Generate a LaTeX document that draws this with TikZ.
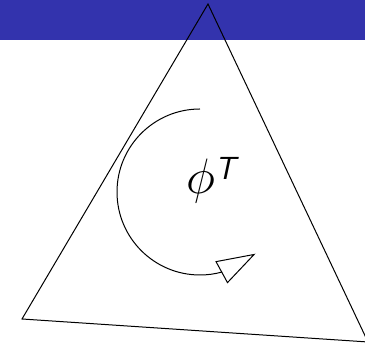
\documentclass[tikz,border=0pt]{standalone}
\usepackage{amsmath}
\usetikzlibrary{arrows.meta,bending}
\definecolor{barblue}{RGB}{51,51,173}

\begin{document}
\begin{tikzpicture}[x=1pt, y=1pt, line width=1pt]
	\useasboundingbox (0, 0) rectangle (365, 347);
	\fill [barblue] (0, 307) rectangle (365, 347);
	\coordinate (top) at (208, 343);
	\coordinate (left) at (22, 28);
	\coordinate (right) at (368, 5);
	\draw (top) -- (left) -- (right) -- cycle;
	\coordinate (c) at (200, 155);
	\draw [-{Triangle[open, length=39pt, width=25pt, flex]}]
		(c) ++(90:83) arc [start angle=90, end angle=312, radius=83];
	\node (phi) [anchor=base west, inner sep=0pt, font=\Huge, scale=2, transform shape]
		at (185, 153) {$\phi$\raisebox{7pt}{\fontsize{16}{18}\selectfont\textsf{\slshape T}}};
\end{tikzpicture}
\end{document}
